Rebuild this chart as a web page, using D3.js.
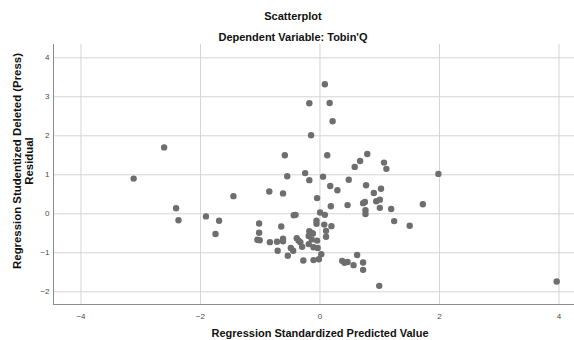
<!DOCTYPE html>
<html>
<head>
<meta charset="utf-8">
<script src="https://cdn.jsdelivr.net/npm/d3@7"></script>
<style>
  body { margin: 0; background: #fff; }
  text { font-family: "Liberation Sans", Arial, sans-serif; }
</style>
</head>
<body>
<div id="scatterChart"></div>
<script>
// Regression Standardized Predicted Value
const predicted = [
  -3.11, -2.60, -2.40, -2.36, -1.90, -1.68, -1.74, -1.44, -1.01, -1.01,
  -1.04, -1.00, -0.84, -0.61, -0.58, -0.54, -0.24, 0.06, -0.17, 0.18,
  0.30, 0.49, 0.78, -0.04, 0.19, 0.47, 0.73, 0.76, 0.91, 1.03,
  0.95, 1.01, 1.01, 0.77, 0.77, 1.20, 1.25, 1.51, 1.73, 1.99,
  -0.43, -0.40, 0.01, 0.09, -0.64, -0.05, -0.05, 0.08, 0.20, 0.11,
  0.11, -0.17, -0.14, -0.11, -0.83, -0.71, -0.61, -0.61, -0.38, -0.35,
  -0.32, -0.18, -0.13, -0.04, -0.70, -0.48, -0.44, -0.29, -0.18, -0.10,
  -0.03, -0.53, -0.27, -0.10, -0.01, 0.03, 0.38, 0.42, 0.47, 0.57,
  0.63, 0.73, 0.73, 1.00, 3.97, 0.09, -0.17, 0.17, 0.22, -0.14,
  0.13, 0.80, 0.68, 0.59, 1.08, 1.12
];
// Regression Studentized Deleted (Press) Residual
const residual = [
  0.89, 1.69, 0.13, -0.18, -0.08, -0.19, -0.53, 0.44, -0.26, -0.50,
  -0.68, -0.69, 0.56, 0.51, 1.49, 0.95, 1.03, 0.94, 0.85, 0.70,
  0.59, 0.86, 0.72, 0.39, 0.18, 0.21, 0.26, 0.29, 0.52, 0.63,
  0.31, 0.35, 0.14, 0.08, -0.02, 0.11, -0.20, -0.32, 0.23, 1.01,
  -0.05, -0.04, 0.02, -0.04, -0.34, -0.19, -0.27, -0.29, -0.33, -0.45,
  -0.60, -0.46, -0.50, -0.52, -0.74, -0.73, -0.65, -0.72, -0.64, -0.70,
  -0.74, -0.58, -0.67, -0.70, -0.96, -0.89, -0.96, -0.86, -0.79, -0.87,
  -0.89, -1.09, -1.21, -1.20, -1.18, -1.05, -1.22, -1.27, -1.25, -1.33,
  -1.07, -1.26, -1.45, -1.86, -1.75, 3.31, 2.82, 2.83, 2.36, 2.00,
  1.49, 1.52, 1.34, 1.19, 1.30, 1.14
];
const xTicks = [-4, -2, 0, 2, 4];
const yTicks = [-2, -1, 0, 1, 2, 3, 4];

const chartTitle = "Scatterplot";
const chartSubtitle = "Dependent Variable: Tobin'Q";
const xTitle = "Regression Standardized Predicted Value";
const yTitle = ["Regression Studentized Deleted (Press)", "Residual"];

const width = 574, height = 340;
const plotLeft = 53, plotRight = 574, plotTop = 44, plotBottom = 304;

const data = predicted.map((x, i) => ({ x: x, y: residual[i] }));

const svg = d3.select("#scatterChart").append("svg")
  .attr("width", width)
  .attr("height", height);

const xScale = d3.scaleLinear().domain([-4.46, 4.26]).range([plotLeft, plotRight]);
const yScale = d3.scaleLinear().domain([-2.326, 4.341]).range([plotBottom, plotTop]);

/* grid lines */
svg.append("g")
  .selectAll("line")
  .data(xTicks).enter()
  .append("line")
  .attr("x1", d => xScale(d) + 0.5).attr("x2", d => xScale(d) + 0.5)
  .attr("y1", plotTop).attr("y2", plotBottom)
  .attr("stroke", "#d4d4d4").attr("stroke-width", 1);

svg.append("g")
  .selectAll("line")
  .data(yTicks).enter()
  .append("line")
  .attr("x1", plotLeft).attr("x2", plotRight)
  .attr("y1", d => yScale(d) + 0.5).attr("y2", d => yScale(d) + 0.5)
  .attr("stroke", "#d4d4d4").attr("stroke-width", 1);

/* axes */
const fmt = d3.format("d");
const xAxis = d3.axisBottom(xScale).tickValues(xTicks).tickFormat(fmt).tickSize(0).tickPadding(9);
const yAxis = d3.axisLeft(yScale).tickValues(yTicks).tickFormat(fmt).tickSize(0).tickPadding(4);

const gx = svg.append("g")
  .attr("transform", `translate(0, ${plotBottom + 0.5})`)
  .call(xAxis);
const gy = svg.append("g")
  .attr("transform", `translate(${plotLeft + 0.5}, 0)`)
  .call(yAxis);

[gx, gy].forEach(g => {
  g.style("color", "#8c8c8c");
  g.select(".domain").attr("stroke", "#8c8c8c").attr("stroke-width", 1);
  g.selectAll("text")
    .style("font-family", "'Liberation Sans', Arial, sans-serif")
    .style("font-size", "8px")
    .style("fill", "#4a4a4a");
});
gx.select(".domain").attr("d", `M${plotLeft},0H${plotRight}`);
gy.select(".domain").attr("d", `M0,${plotTop}V${plotBottom}`);

/* points */
svg.append("g")
  .selectAll("circle")
  .data(data).enter()
  .append("circle")
  .attr("cx", d => xScale(d.x))
  .attr("cy", d => yScale(d.y))
  .attr("r", 3.2)
  .attr("fill", "#6e6e6e");

/* titles */
svg.append("text")
  .attr("x", 293).attr("y", 20)
  .attr("text-anchor", "middle")
  .style("font-size", "11px").style("font-weight", "bold")
  .attr("fill", "#111")
  .text(chartTitle);

svg.append("text")
  .attr("x", 293).attr("y", 40.5)
  .attr("text-anchor", "middle")
  .style("font-size", "11px").style("font-weight", "bold")
  .attr("fill", "#111")
  .text(chartSubtitle);

svg.append("text")
  .attr("x", 320).attr("y", 336.5)
  .attr("text-anchor", "middle")
  .style("font-size", "11px").style("font-weight", "bold")
  .attr("fill", "#111")
  .text(xTitle);

svg.append("g")
  .attr("transform", "translate(0, 161) rotate(-90)")
  .selectAll("text")
  .data(yTitle).enter()
  .append("text")
  .attr("x", 0)
  .attr("y", (d, i) => 21 + i * 12)
  .attr("text-anchor", "middle")
  .style("font-size", "11.4px").style("font-weight", "bold")
  .attr("fill", "#111")
  .text(d => d);
</script>
</body>
</html>
